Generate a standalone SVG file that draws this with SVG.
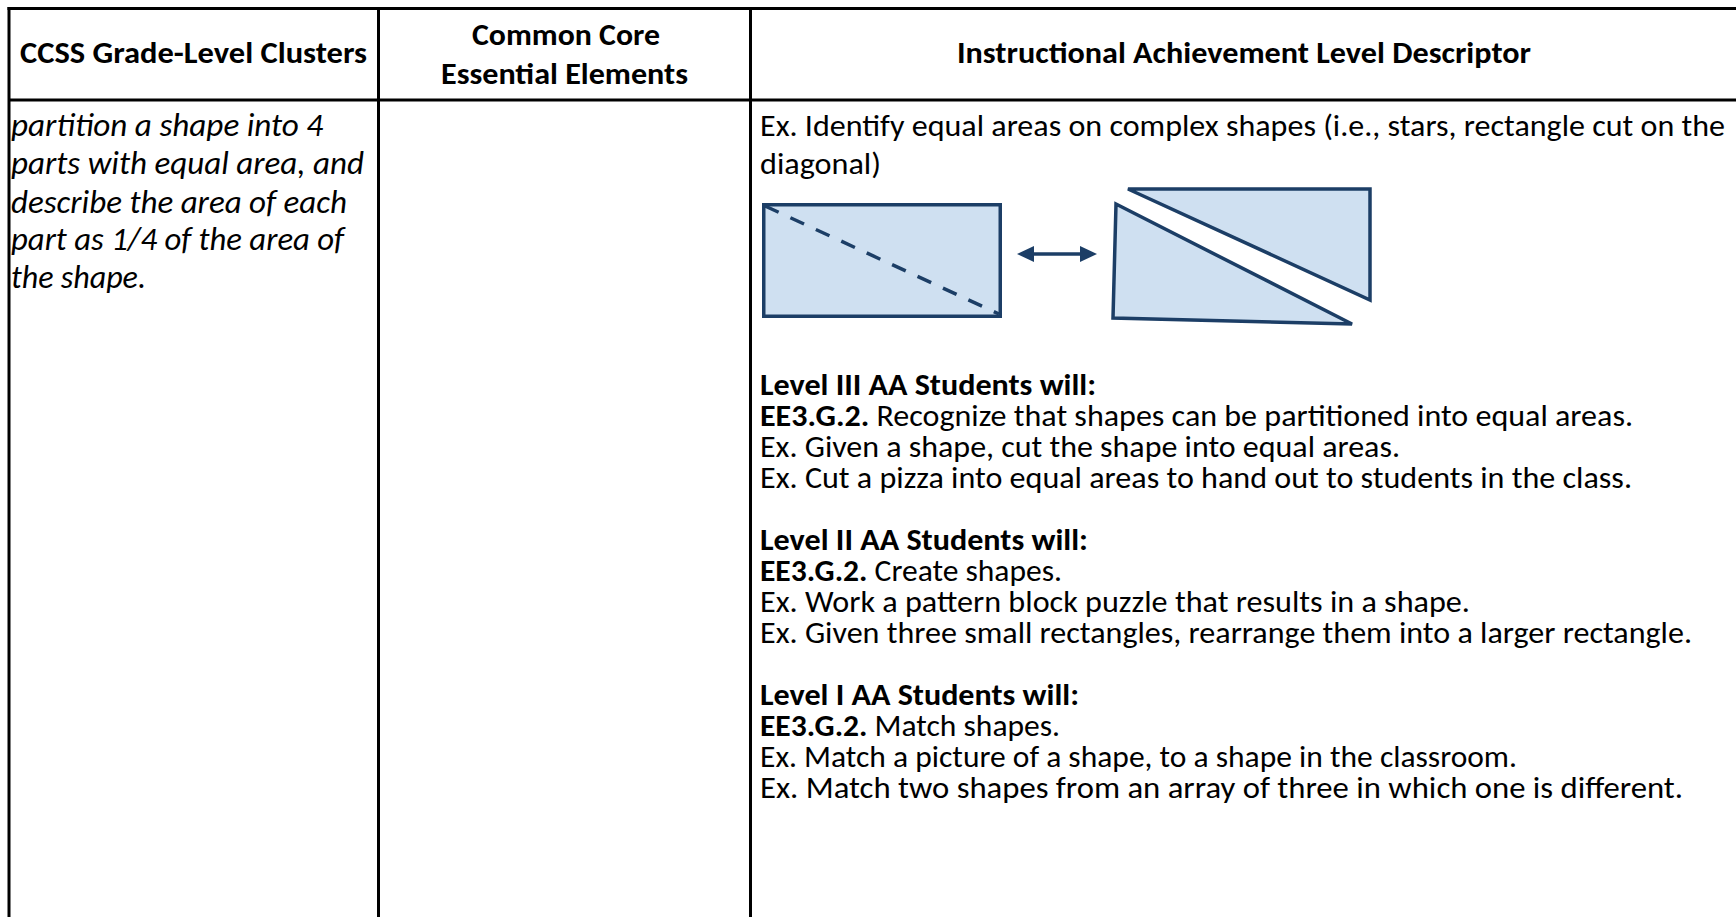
<svg xmlns="http://www.w3.org/2000/svg" width="1736" height="917" viewBox="0 0 1736 917">
<style>
text{font-family:Carlito,Lato,"Liberation Sans",sans-serif;font-size:30px;fill:#000}
.b{font-weight:bold}
.i{font-style:italic;font-size:32px}
.grid{stroke:#000;stroke-width:3;fill:none}
.shape{fill:#CFE0F1;stroke:#1C3E66;stroke-width:3.5;stroke-linejoin:miter}
</style>
<rect x="0" y="0" width="1736" height="917" fill="#fff"/>
<g id="connectors">
<line class="grid" x1="7.5" y1="8.5" x2="1736" y2="8.5"/>
<line class="grid" x1="9" y1="7" x2="9" y2="917"/>
<line class="grid" x1="378.5" y1="7" x2="378.5" y2="917"/>
<line class="grid" x1="750.5" y1="7" x2="750.5" y2="917"/>
<line class="grid" x1="9" y1="100" x2="1736" y2="100"/>
</g>
<g id="header-clusters">
<text class="b" x="20" y="63" textLength="347" lengthAdjust="spacingAndGlyphs">CCSS Grade-Level Clusters</text>
</g>
<g id="header-elements">
<text class="b" x="472" y="45" textLength="188" lengthAdjust="spacingAndGlyphs">Common Core</text>
<text class="b" x="441" y="84" textLength="247" lengthAdjust="spacingAndGlyphs">Essential Elements</text>
</g>
<g id="header-descriptor">
<text class="b" x="957" y="63" textLength="574" lengthAdjust="spacingAndGlyphs">Instructional Achievement Level Descriptor</text>
</g>
<g id="cell-clusters">
<text class="i" x="11" y="136" textLength="312" lengthAdjust="spacingAndGlyphs">partition a shape into 4</text>
<text class="i" x="11" y="174" textLength="353" lengthAdjust="spacingAndGlyphs">parts with equal area, and</text>
<text class="i" x="11" y="213" textLength="336" lengthAdjust="spacingAndGlyphs">describe the area of each</text>
<text class="i" x="11" y="250" textLength="333" lengthAdjust="spacingAndGlyphs">part as 1/4 of the area of</text>
<text class="i" x="11" y="288" textLength="135" lengthAdjust="spacingAndGlyphs">the shape.</text>
</g>
<g id="cell-elements"></g>
<g id="cell-descriptor">
<text x="760" y="136" textLength="965" lengthAdjust="spacingAndGlyphs">Ex. Identify equal areas on complex shapes (i.e., stars, rectangle cut on the</text>
<text x="760" y="174" textLength="121" lengthAdjust="spacingAndGlyphs">diagonal)</text>
<text class="b" x="760" y="395" textLength="336" lengthAdjust="spacingAndGlyphs">Level III AA Students will:</text>
<text x="760" y="426" textLength="873" lengthAdjust="spacingAndGlyphs"><tspan class="b">EE3.G.2.</tspan> Recognize that shapes can be partitioned into equal areas.</text>
<text x="760" y="457" textLength="640" lengthAdjust="spacingAndGlyphs">Ex. Given a shape, cut the shape into equal areas.</text>
<text x="760" y="488" textLength="872" lengthAdjust="spacingAndGlyphs">Ex. Cut a pizza into equal areas to hand out to students in the class.</text>
<text class="b" x="760" y="550" textLength="328" lengthAdjust="spacingAndGlyphs">Level II AA Students will:</text>
<text x="760" y="581" textLength="302" lengthAdjust="spacingAndGlyphs"><tspan class="b">EE3.G.2.</tspan> Create shapes.</text>
<text x="760" y="612" textLength="710" lengthAdjust="spacingAndGlyphs">Ex. Work a pattern block puzzle that results in a shape.</text>
<text x="760" y="643" textLength="932" lengthAdjust="spacingAndGlyphs">Ex. Given three small rectangles, rearrange them into a larger rectangle.</text>
<text class="b" x="760" y="705" textLength="319" lengthAdjust="spacingAndGlyphs">Level I AA Students will:</text>
<text x="760" y="736" textLength="300" lengthAdjust="spacingAndGlyphs"><tspan class="b">EE3.G.2.</tspan> Match shapes.</text>
<text x="760" y="767" textLength="757" lengthAdjust="spacingAndGlyphs">Ex. Match a picture of a shape, to a shape in the classroom.</text>
<text x="760" y="798" textLength="923" lengthAdjust="spacingAndGlyphs">Ex. Match two shapes from an array of three in which one is different.</text>
</g>
<g id="figure">
<rect class="shape" x="763.75" y="204.75" width="236.5" height="111.5"/>
<line x1="765" y1="206" x2="999" y2="314" stroke="#1C3E66" stroke-width="3.5" stroke-dasharray="15 13"/>
<line x1="1028" y1="254" x2="1086" y2="254" stroke="#1C3E66" stroke-width="3.5"/>
<polygon points="1017,254 1034,246 1034,262" fill="#1C3E66"/>
<polygon points="1097,254 1080,246 1080,262" fill="#1C3E66"/>
<polygon class="shape" points="1116,204 1113,318 1352,324"/>
<polygon class="shape" points="1128,189 1370,189 1370,300"/>
</g>
</svg>
